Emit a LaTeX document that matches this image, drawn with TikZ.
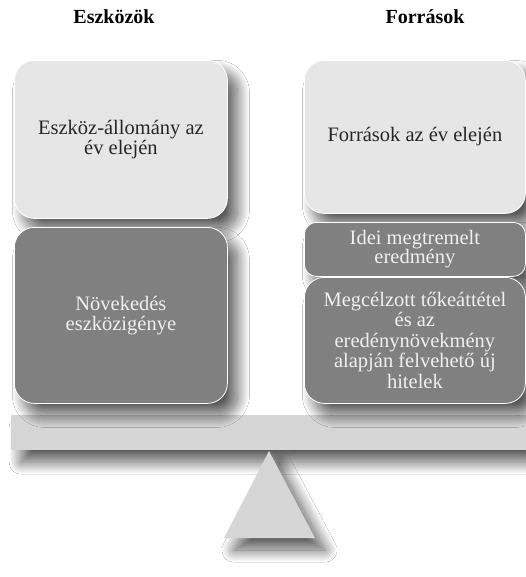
\documentclass[tikz,border=0pt]{standalone}
\usepackage{fontspec}
\setmainfont{Liberation Serif}
\usepackage{tikz}
\usetikzlibrary{shadows.blur}
\newcommand\boxR{20pt}
\newcommand\shadowOff{10pt}
\definecolor{lightFill}{HTML}{E6E6E6}
\definecolor{darkFill}{HTML}{808080}
\definecolor{beamFill}{HTML}{D6D6D6}
\tikzset{
    softshadow/.style={blur shadow={shadow xshift=\shadowOff, shadow yshift=-12pt, shadow blur radius=12pt, shadow blur steps=30, shadow opacity=65}},
    lightbox/.style={draw=white, line width=0.8pt, fill=lightFill, rounded corners=\boxR, anchor=north west, align=center, text=black!85, font=\fontsize{20.5}{20}\selectfont, softshadow},
    darkbox/.style={lightbox, fill=darkFill, text=white!94!black},
    title/.style={font=\fontsize{20}{20}\selectfont\bfseries, text=black}
}
\begin{document}
\begin{tikzpicture}[x=1pt, y=-1pt]
    \useasboundingbox[fill=white] (0,0) rectangle (526,577);

    % beam and fulcrum
    \node[draw=none, fill=beamFill, anchor=north west, minimum width=515pt, minimum height=35pt, inner sep=0pt, softshadow] (beam) at (11,415) {};
    \fill[beamFill, softshadow] (269,451) -- (315,538) -- (224,538) -- cycle;

    % assets
    \node[title] (assetsTitle) at (114,17) {Eszközök};
    \node[lightbox, minimum width=213pt, minimum height=158pt] (assetsStart) at (14,60) {Eszköz-állomány az\\év elején};
    \node[darkbox, minimum width=213pt, minimum height=176pt] (assetsGrowth) at (14,227) {Növekedés\\eszközigénye};

    % sources
    \node[title] (sourcesTitle) at (425,17) {Források};
    \node[lightbox, minimum width=221pt, minimum height=153pt] (sourcesStart) at (304,60) {Források az év elején};
    \node[darkbox, rounded corners=12pt, minimum width=221pt, minimum height=54pt, font=\fontsize{20.5}{19}\selectfont] (profit) at (304,222) {Idei megtremelt\\eredmény};
    \node[darkbox, minimum width=221pt, minimum height=126pt, font=\fontsize{20.5}{20.5}\selectfont] (loans) at (304,277) {Megcélzott tőkeáttétel\\és az\\eredénynövekmény\\alapján felvehető új\\hitelek};
\end{tikzpicture}
\end{document}
